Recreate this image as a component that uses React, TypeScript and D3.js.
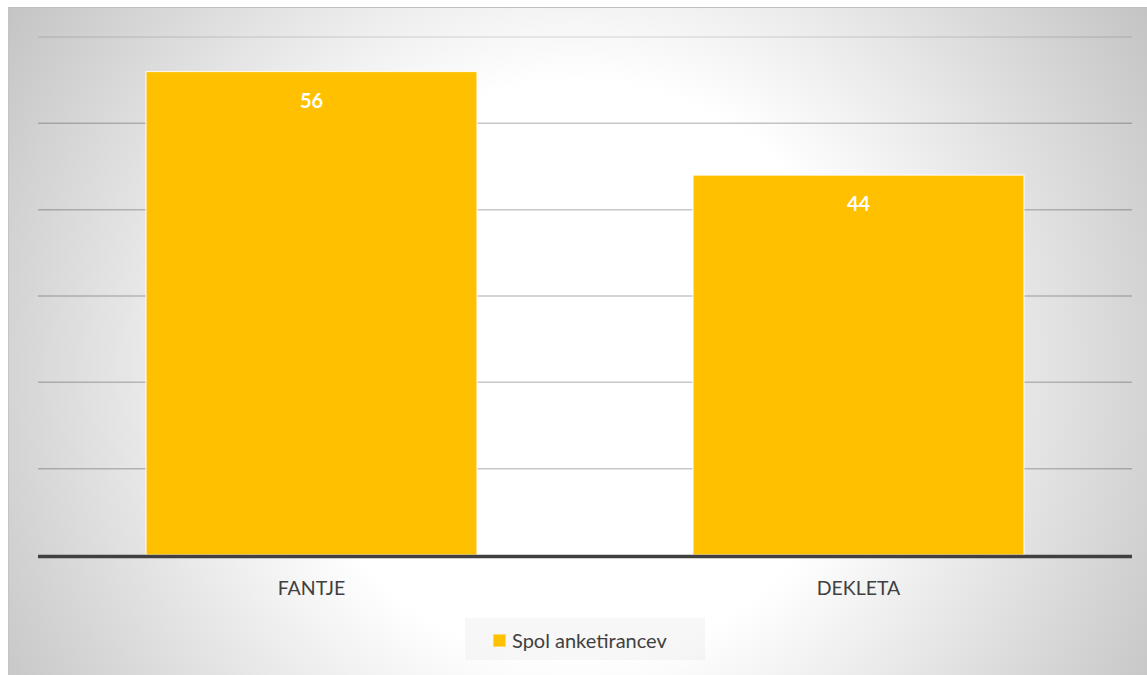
import React from "react";
import * as d3 from "d3";

const categories = ["FANTJE", "DEKLETA"];
const values = [56, 44];
const yTicks = [0, 10, 20, 30, 40, 50, 60];
const seriesName = "Spol anketirancev";

const W = 1147;
const H = 675;
const plot = { left: 38, right: 1132, top: 37, bottom: 555 };
const FONT = "Lato, 'Open Sans', sans-serif";

export default function App() {
  const x = d3
    .scaleBand<string>()
    .domain(categories)
    .range([plot.left, plot.right])
    .paddingInner(0.395)
    .paddingOuter(0.1975);
  const y = d3.scaleLinear().domain([0, 60]).range([plot.bottom, plot.top]);

  return (
    <div style={{ position: "absolute", left: 0, top: 0 }}>
      <svg width={W} height={H} style={{ display: "block" }}>
        <defs>
          <radialGradient id="bg" gradientUnits="userSpaceOnUse" cx={577} cy={370} r={720} fx={577} fy={370}>
            <stop offset="0" stopColor="#ffffff" />
            <stop offset="0.4" stopColor="#ffffff" />
            <stop offset="1" stopColor="#bdbdbd" />
          </radialGradient>
        </defs>
        <rect x={0} y={0} width={W} height={H} fill="#ffffff" />
        <rect x={8} y={7} width={W - 8} height={H - 7} fill="url(#bg)" />
        <line x1={8} x2={W} y1={7.5} y2={7.5} stroke="#bdbdbd" strokeWidth={1} />
        <line x1={8.5} x2={8.5} y1={7} y2={H} stroke="#c4c4c4" strokeWidth={1} />

        {yTicks
          .filter((t) => t > 0)
          .map((t) => (
            <line
              key={t}
              x1={plot.left}
              x2={plot.right}
              y1={y(t)}
              y2={y(t)}
              stroke={t === 60 ? "rgba(0,0,0,0.1)" : "rgba(0,0,0,0.22)"}
              strokeWidth={1.5}
            />
          ))}

        {categories.map((c, i) => (
          <rect
            key={c}
            x={x(c)}
            y={y(values[i])}
            width={x.bandwidth()}
            height={y(0) - y(values[i])}
            fill="#FFC000"
            stroke="rgba(255,255,255,0.8)"
            strokeWidth={1.2}
          />
        ))}

        {categories.map((c, i) => (
          <text
            key={c + "v"}
            x={(x(c) as number) + x.bandwidth() / 2}
            y={y(values[i]) + 36}
            textAnchor="middle"
            fontFamily={FONT}
            fontWeight="bold"
            fontSize={20}
            fill="#ffffff"
          >
            {values[i]}
          </text>
        ))}

        <line
          x1={plot.left}
          x2={plot.right}
          y1={y(0) + 1.5}
          y2={y(0) + 1.5}
          stroke="#404040"
          strokeWidth={3.5}
        />

        {categories.map((c) => (
          <text
            key={c + "l"}
            x={(x(c) as number) + x.bandwidth() / 2}
            y={595}
            textAnchor="middle"
            fontFamily={FONT}
            fontSize={19.5}
            fill="#404040"
          >
            {c}
          </text>
        ))}

        <rect x={465} y={618} width={240} height={42} fill="#e8e8e8" opacity={0.35} />
        <rect x={493.5} y={634.5} width={12} height={12} fill="#FFC000" stroke="#ffd966" strokeWidth={1} />
        <text x={512} y={648} fontFamily={FONT} fontSize={20} fill="#404040">
          {seriesName}
        </text>
      </svg>
    </div>
  );
}
